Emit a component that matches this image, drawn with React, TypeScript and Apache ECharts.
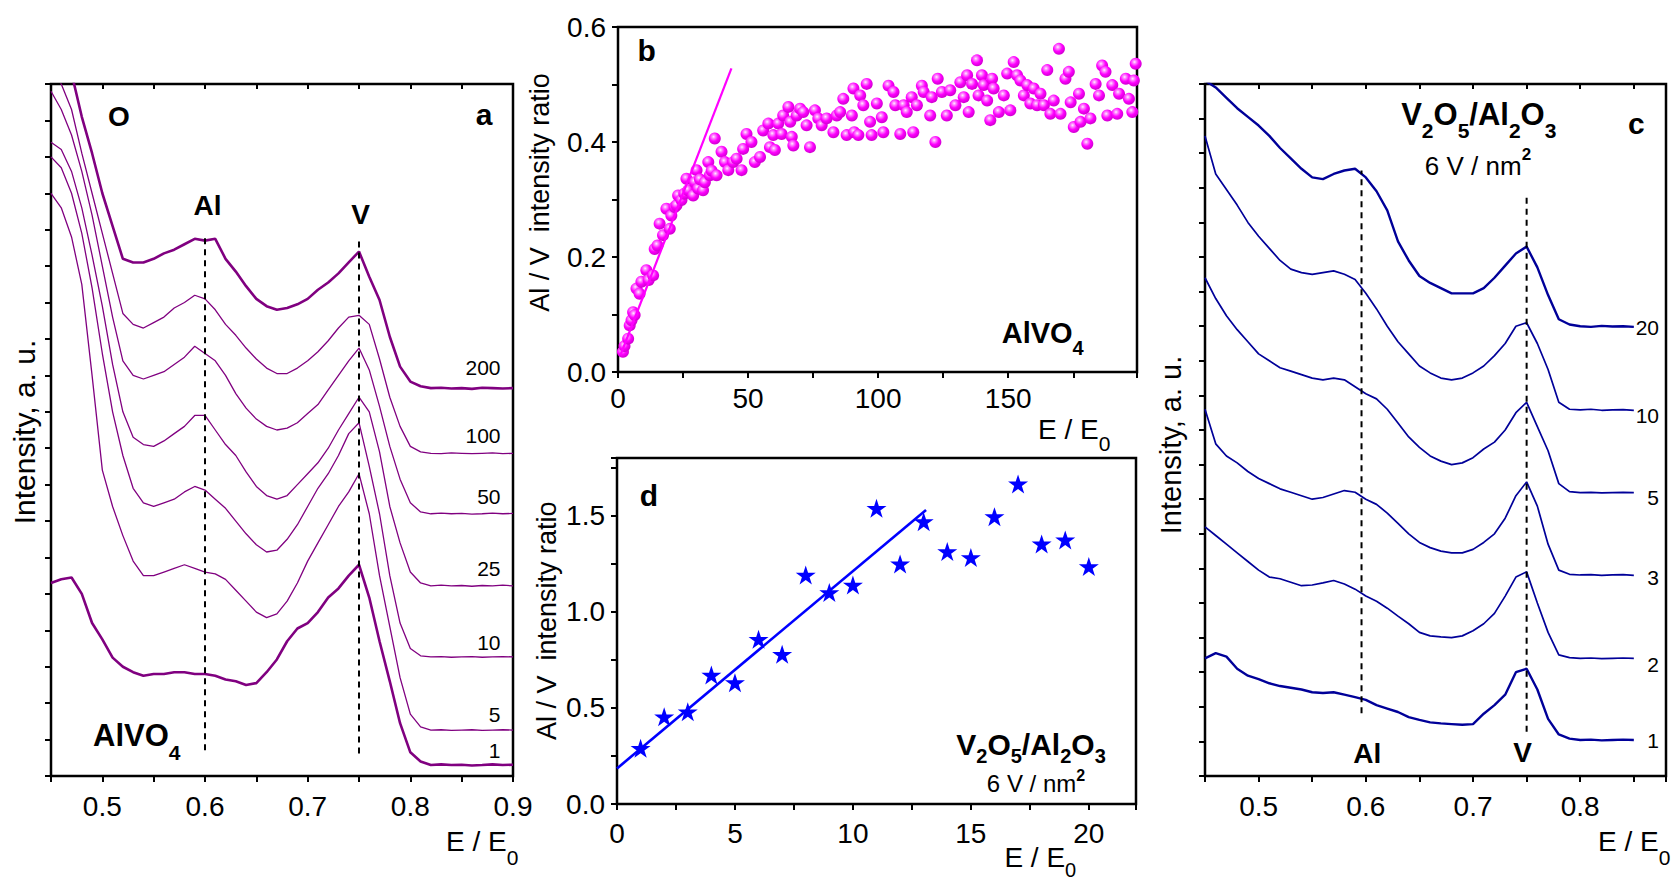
import React, { useEffect, useRef } from 'react';
import * as echarts from 'echarts';

const FONT = '"Liberation Sans", Arial, Helvetica, sans-serif';
const PURPLE = '#800080';
const NAVY = '#000099';
const MAGENTA = '#ff00ff';
const BLUE = '#0000ff';

// ---------- Panel a : AlVO4 spectra (E/E0 vs intensity, arbitrary units) ----------
const aE = [0.45, 0.46, 0.47, 0.48, 0.49, 0.50, 0.51, 0.52, 0.53, 0.54, 0.55, 0.56, 0.57, 0.58, 0.59,
  0.60, 0.61, 0.62, 0.63, 0.64, 0.65, 0.66, 0.67, 0.68, 0.69, 0.70, 0.71, 0.72, 0.73, 0.74, 0.75,
  0.76, 0.77, 0.78, 0.79, 0.80, 0.81, 0.82, 0.83, 0.84, 0.85, 0.86, 0.87, 0.88, 0.89, 0.90];
const a200 = [20.5, 20.0, 19.3, 18.1, 17.1, 16.0, 15.1, 14.2, 14.1, 14.1, 14.2, 14.35, 14.45, 14.6, 14.75,
  14.7, 14.75, 14.2, 13.85, 13.45, 13.1, 12.9, 12.8, 12.85, 12.95,
  13.1, 13.35, 13.55, 13.8, 14.1, 14.4, 13.71, 13.07, 12.06, 11.24,
  10.83, 10.7, 10.65, 10.66, 10.64, 10.65, 10.63, 10.66, 10.65, 10.64, 10.65];
const a100 = [19.5, 19.0, 18.3, 17.1, 16.0, 14.9, 13.8, 12.7, 12.4, 12.3, 12.45, 12.6, 12.85, 13.0, 13.2,
  13.1, 12.8, 12.4, 12.1, 11.75, 11.45, 11.2, 11.05, 11.05, 11.2,
  11.4, 11.65, 11.95, 12.3, 12.6, 12.65, 12.4, 11.45, 10.4, 9.6,
  9.05, 8.9, 8.86, 8.85, 8.87, 8.86, 8.85, 8.86, 8.87, 8.85, 8.86];
const a50 = [18.8, 18.3, 17.6, 16.6, 15.4, 14.0, 12.6, 11.4, 11.0, 10.9, 11.0, 11.1, 11.3, 11.5, 11.8,
  11.6, 11.4, 11.0, 10.5, 10.1, 9.8, 9.6, 9.5, 9.55, 9.7,
  9.95, 10.2, 10.6, 11.0, 11.4, 11.75, 11.15, 10.15, 9.05, 8.15,
  7.5, 7.25, 7.2, 7.22, 7.2, 7.21, 7.19, 7.2, 7.22, 7.2, 7.21];
const a25 = [17.4, 17.2, 16.6, 15.6, 14.3, 12.9, 11.3, 10.0, 9.3, 9.1, 9.05, 9.2, 9.4, 9.6, 9.9,
  9.9, 9.5, 9.1, 8.8, 8.35, 7.95, 7.7, 7.6, 7.7, 8.0,
  8.3, 8.6, 9.0, 9.5, 9.95, 10.4, 10.0, 8.9, 7.4, 6.4,
  5.6, 5.3, 5.22, 5.24, 5.22, 5.23, 5.21, 5.23, 5.22, 5.24, 5.22];
const a10 = [17.0, 16.7, 16.0, 14.9, 13.4, 11.6, 10.0, 8.8, 7.9, 7.5, 7.4, 7.5, 7.6, 7.8, 7.95,
  7.85, 7.6, 7.35, 7.0, 6.65, 6.35, 6.15, 6.2, 6.5, 6.9,
  7.4, 7.9, 8.3, 8.8, 9.4, 9.7, 8.5, 7.2, 5.5, 4.2,
  3.5, 3.3, 3.27, 3.28, 3.26, 3.27, 3.28, 3.26, 3.27, 3.28, 3.27];
const a5 = [16.0, 15.6, 14.8, 13.5, 11.0, 8.4, 7.4, 6.6, 5.9, 5.5, 5.5, 5.6, 5.7, 5.8, 5.7,
  5.6, 5.55, 5.4, 5.1, 4.8, 4.5, 4.35, 4.45, 4.8, 5.3,
  5.9, 6.4, 6.9, 7.4, 7.8, 8.3, 7.2, 5.5, 4.1, 2.7,
  1.7, 1.35, 1.26, 1.27, 1.25, 1.26, 1.27, 1.25, 1.26, 1.27, 1.26];
const a1 = [5.3, 5.4, 5.45, 5.0, 4.2, 3.75, 3.25, 3.0, 2.85, 2.75, 2.8, 2.8, 2.85, 2.85, 2.8,
  2.8, 2.75, 2.65, 2.6, 2.5, 2.55, 2.85, 3.2, 3.7, 4.05,
  4.2, 4.5, 4.9, 5.15, 5.5, 5.8, 4.9, 3.7, 2.6, 1.45,
  0.65, 0.4, 0.3, 0.32, 0.3, 0.31, 0.29, 0.3, 0.32, 0.3, 0.31];
const aCurveNames = ['200', '100', '50', '25', '10', '5', '1'];
const aDashX = [0.6, 0.75];
const aDashLow = [0.71, 0.62];
const aDashHigh = [14.9, 14.76];

// ---------- Panel c : V2O5/Al2O3 spectra ----------
const cE = [0.45, 0.46, 0.47, 0.48, 0.49, 0.50, 0.51, 0.52, 0.53, 0.54, 0.55, 0.56, 0.57, 0.58, 0.59,
  0.60, 0.61, 0.62, 0.63, 0.64, 0.65, 0.66, 0.67, 0.68, 0.69, 0.70, 0.71, 0.72, 0.73, 0.74, 0.75,
  0.76, 0.77, 0.78, 0.79, 0.80, 0.81, 0.82, 0.83, 0.84, 0.85];
const c20 = [20.1, 19.9, 19.6, 19.3, 19.05, 18.8, 18.5, 18.15, 17.85, 17.55, 17.3, 17.25, 17.4, 17.5, 17.55,
  17.3, 16.9, 16.35, 15.45, 14.9, 14.45, 14.25, 14.1, 13.95, 13.95,
  13.95, 14.1, 14.4, 14.75, 15.1, 15.3, 14.7, 13.9, 13.2, 13.05,
  13.0, 12.98, 13.01, 12.99, 13.0, 12.98];
const c10 = [18.5, 17.4, 16.95, 16.5, 16.0, 15.6, 15.25, 14.9, 14.65, 14.55, 14.5, 14.55, 14.6, 14.5, 14.35,
  13.95, 13.5, 13.0, 12.55, 12.2, 11.85, 11.65, 11.5, 11.45, 11.5,
  11.65, 11.85, 12.15, 12.5, 13.0, 13.1, 12.5, 11.75, 10.8, 10.6,
  10.58, 10.6, 10.57, 10.58, 10.59, 10.57];
const c5 = [14.4, 13.8, 13.3, 12.9, 12.55, 12.2, 12.0, 11.8, 11.7, 11.6, 11.5, 11.45, 11.5, 11.45, 11.25,
  11.05, 10.9, 10.6, 10.2, 9.8, 9.5, 9.25, 9.1, 9.0, 9.05,
  9.2, 9.45, 9.65, 10.0, 10.5, 10.8, 10.1, 9.4, 8.45, 8.22,
  8.19, 8.2, 8.18, 8.19, 8.2, 8.19];
const c3 = [10.6, 9.6, 9.25, 9.05, 8.8, 8.6, 8.45, 8.3, 8.2, 8.1, 8.0, 8.05, 8.15, 8.25, 8.2,
  8.0, 7.85, 7.6, 7.3, 7.0, 6.75, 6.6, 6.5, 6.45, 6.45,
  6.55, 6.75, 7.0, 7.45, 8.1, 8.5, 7.8, 6.7, 5.95, 5.83,
  5.81, 5.82, 5.8, 5.81, 5.82, 5.8];
const c2 = [7.2, 6.95, 6.7, 6.45, 6.2, 5.95, 5.75, 5.7, 5.6, 5.5, 5.52, 5.58, 5.65, 5.55, 5.4,
  5.2, 5.05, 4.85, 4.62, 4.4, 4.15, 4.05, 4.02, 4.0, 4.05,
  4.2, 4.4, 4.7, 5.2, 5.75, 5.9, 5.0, 4.15, 3.5, 3.42,
  3.4, 3.41, 3.39, 3.4, 3.41, 3.4];
const c1 = [3.4, 3.55, 3.45, 3.1, 2.9, 2.8, 2.68, 2.6, 2.55, 2.5, 2.42, 2.4, 2.42, 2.35, 2.28,
  2.2, 2.05, 1.95, 1.85, 1.7, 1.62, 1.55, 1.52, 1.5, 1.48,
  1.5, 1.8, 2.05, 2.35, 3.0, 3.1, 2.5, 1.65, 1.2, 1.08,
  1.04, 1.05, 1.03, 1.04, 1.05, 1.04];
const cCurveNames = ['20', '10', '5', '3', '2', '1'];
const cDashX = [0.596, 0.75];
const cDashLow = [1.81, 1.28];
const cDashHigh = [17.5, 16.74];

// ---------- Panel b : AlVO4 Al/V intensity ratio ----------
const bX = [1.9, 2.5, 3.9, 4.5, 5.2, 5.8, 6.4, 7.1, 8.3, 9.0, 10.9, 11.8, 13.5, 14.1, 15.2, 16.0, 17.3, 18.6,
  19.9, 20.5, 21.8, 22.5, 23.1, 24.4, 25.5, 26.3, 27.0, 28.9, 29.5, 30.2, 30.8, 31.5, 32.7, 33.4, 34.7,
  35.3, 36.0, 37.2, 37.9, 39.8, 41.1, 42.4, 44.3, 45.6, 47.5, 48.1, 49.4, 51.3, 52.6, 54.6, 55.8, 57.8,
  58.4, 59.7, 60.3, 61.6, 62.9, 63.5, 65.5, 66.2, 66.8, 67.4, 68.7, 70.0, 71.2, 72.5, 73.8, 75.7, 77.0,
  78.3, 80.2, 82.8, 84.1, 85.4, 86.6, 87.9, 89.9, 90.5, 90.8, 92.4, 93.1, 94.3, 95.6, 96.9, 97.5, 99.5,
  101.4, 102.0, 104.0, 105.9, 106.6, 108.5, 109.8, 111.0, 112.9, 113.5, 114.9, 116.8, 117.5, 120.0,
  120.6, 122.0, 122.9, 124.5, 126.4, 127.7, 129.7, 131.6, 132.9, 134.2, 134.8, 136.1, 138.0, 138.6,
  139.9, 140.6, 141.9, 143.1, 143.8, 144.4, 146.4, 148.3, 149.6, 150.8, 152.1, 153.4, 154.7, 156.0,
  157.3, 158.5, 159.8, 161.1, 162.4, 163.7, 165.0, 166.2, 167.5, 169.5, 170.1, 172.0, 173.3, 174.0,
  175.2, 177.2, 177.8, 179.1, 180.4, 181.6, 183.6, 184.9, 186.1, 187.4, 188.1, 190.0, 191.9, 192.6,
  195.2, 196.4, 197.7, 198.3, 199.0];
const bY = [0.035, 0.045, 0.058, 0.081, 0.09, 0.104, 0.099, 0.145, 0.136, 0.157, 0.177, 0.16, 0.168, 0.214,
  0.22, 0.258, 0.238, 0.284, 0.249, 0.272, 0.287, 0.29, 0.307, 0.299, 0.31, 0.336, 0.316, 0.307, 0.33,
  0.351, 0.319, 0.335, 0.316, 0.33, 0.365, 0.342, 0.35, 0.406, 0.342, 0.383, 0.365, 0.351, 0.365, 0.371,
  0.351, 0.388, 0.414, 0.4, 0.365, 0.374, 0.42, 0.432, 0.391, 0.412, 0.386, 0.432, 0.414, 0.446, 0.461,
  0.435, 0.409, 0.394, 0.446, 0.458, 0.452, 0.429, 0.391, 0.455, 0.441, 0.429, 0.441, 0.417, 0.446,
  0.452, 0.475, 0.412, 0.446, 0.493, 0.417, 0.412, 0.481, 0.464, 0.501, 0.435, 0.412, 0.467, 0.443,
  0.417, 0.498, 0.487, 0.464, 0.414, 0.464, 0.452, 0.478, 0.417, 0.464, 0.498, 0.487, 0.446, 0.478,
  0.4, 0.51, 0.487, 0.446, 0.49, 0.464, 0.504, 0.478, 0.516, 0.452, 0.501, 0.542, 0.481, 0.516, 0.499,
  0.472, 0.438, 0.51, 0.493, 0.452, 0.481, 0.519, 0.455, 0.539, 0.516, 0.507, 0.481, 0.499, 0.467,
  0.493, 0.464, 0.484, 0.464, 0.525, 0.449, 0.472, 0.562, 0.449, 0.51, 0.522, 0.469, 0.426, 0.484,
  0.435, 0.458, 0.397, 0.441, 0.501, 0.481, 0.533, 0.522, 0.446, 0.499, 0.449, 0.484, 0.51, 0.475,
  0.452, 0.507, 0.536];
const bFitX = [1, 43.6];
const bFitY = [0.03, 0.528];

// ---------- Panel d : V2O5/Al2O3 Al/V intensity ratio ----------
const dX = [1, 2, 3, 4, 5, 6, 7, 8, 9, 10, 11, 12, 13, 14, 15, 16, 17, 18, 19, 20];
const dY = [0.29, 0.454, 0.48, 0.671, 0.631, 0.857, 0.779, 1.191, 1.1, 1.139, 1.538, 1.249, 1.469, 1.313,
  1.282, 1.495, 1.665, 1.353, 1.374, 1.235];
const dFitX = [0, 13.1];
const dFitY = [0.185, 1.53];

const STAR = 'path://M12,0 L14.8,8.6 L24,8.6 L16.6,14 L19.4,22.8 L12,17.4 L4.6,22.8 L7.4,14 L0,8.6 L9.2,8.6 Z';

const zip = (xs: number[], ys: number[]) => xs.map((x, i) => [x, ys[i]]);

let _ctx: CanvasRenderingContext2D | null = null;
function measure(t: string, size: number, bold: boolean) {
  if (!_ctx) _ctx = document.createElement('canvas').getContext('2d');
  if (!_ctx) return t.length * size * 0.55;
  _ctx.font = `${bold ? 'bold ' : ''}${size}px ${FONT}`;
  return _ctx.measureText(t).width;
}

function txt(t: string, x: number, y: number, size: number, o: any = {}) {
  const align = o.align || 'center';
  return {
    type: 'text', x, y, rotation: o.rot || 0, silent: true, z: 100,
    style: {
      text: t, fill: '#000', font: `${o.bold ? 'bold ' : ''}${size}px ${FONT}`,
      align, verticalAlign: 'middle', textAlign: align, textVerticalAlign: 'middle',
    },
  };
}

type Part = [string, 'n' | 's' | 'p'];
function rich(parts: Part[], x: number, baseline: number, o: any) {
  const size = o.size;
  const sub = o.sub || Math.round(size * 0.7);
  const dy = o.dy ?? size * 0.42;
  const up = o.up ?? size * 0.5;
  const bold = !!o.bold;
  const subBold = o.subBold ?? bold;
  const ws = parts.map(([t, k]) => measure(t, k === 'n' ? size : sub, k === 'n' ? bold : subBold));
  const total = ws.reduce((a, b) => a + b, 0);
  let cx = o.align === 'center' ? x - total / 2 : o.align === 'right' ? x - total : x;
  return parts.map(([t, k], i) => {
    const sz = k === 'n' ? size : sub;
    const b = k === 'n' ? baseline : k === 's' ? baseline + dy : baseline - up;
    const el = {
      type: 'text', x: cx, y: b - 0.35 * sz, silent: true, z: 100,
      style: {
        text: t, fill: '#000', font: `${(k === 'n' ? bold : subBold) ? 'bold ' : ''}${sz}px ${FONT}`,
        align: 'left', verticalAlign: 'middle', textAlign: 'left', textVerticalAlign: 'middle',
      },
    };
    cx += ws[i];
    return el;
  });
}

const fmt = (every: number, digits: number) => (v: number) => {
  const k = v / every;
  return Math.abs(k - Math.round(k)) < 1e-6 ? v.toFixed(digits) : '';
};
const tickOut = { show: true, inside: false, length: 6, lineStyle: { color: '#000', width: 2 } };
const tickIn = { show: true, inside: true, length: 5, lineStyle: { color: '#000', width: 2 } };
const lbl = (every: number, digits: number, margin: number) => ({
  show: true, color: '#000', fontSize: 28, fontFamily: FONT, margin, formatter: fmt(every, digits),
});
const noLbl = { show: false };
const ax = (gridIndex: number, position: string, min: number, max: number, interval: number, axisTick: any, axisLabel: any) => ({
  type: 'value', gridIndex, position, min, max, interval, axisTick, axisLabel,
  axisLine: { show: false }, splitLine: { show: false }, minorTick: { show: false },
});

function buildOption() {
  const aSeries = [a200, a100, a50, a25, a10, a5, a1].map((ys, i) => ({
    type: 'line', name: 'a' + aCurveNames[i], xAxisIndex: 0, yAxisIndex: 0, data: zip(aE, ys),
    showSymbol: false, symbol: 'none', silent: true, clip: true,
    lineStyle: { color: PURPLE, width: i === 0 || i === 6 ? 2.6 : 1.3 },
  }));
  const cSeries = [c20, c10, c5, c3, c2, c1].map((ys, i) => ({
    type: 'line', name: 'c' + cCurveNames[i], xAxisIndex: 6, yAxisIndex: 5, data: zip(cE, ys),
    showSymbol: false, symbol: 'none', silent: true, clip: true,
    lineStyle: { color: NAVY, width: i === 0 || i === 5 ? 2.4 : 1.7 },
  }));
  const dashA = aDashX.map((x, i) => ({
    type: 'line', xAxisIndex: 0, yAxisIndex: 0, data: [[x, aDashLow[i]], [x, aDashHigh[i]]],
    showSymbol: false, symbol: 'none', silent: true, z: 5,
    lineStyle: { color: '#000', width: 2, type: [6, 5] },
  }));
  const dashC = cDashX.map((x, i) => ({
    type: 'line', xAxisIndex: 6, yAxisIndex: 5, data: [[x, cDashLow[i]], [x, cDashHigh[i]]],
    showSymbol: false, symbol: 'none', silent: true, z: 5,
    lineStyle: { color: '#000', width: 2, type: [6, 5] },
  }));
  const sphere = new echarts.graphic.RadialGradient(0.4, 0.35, 0.62, [
    { offset: 0, color: '#fff0ff' },
    { offset: 0.22, color: '#ff8cff' },
    { offset: 0.6, color: '#ff00ff' },
    { offset: 1, color: '#d400d4' },
  ]);

  const graphics: any[] = [
    // panel a
    txt('O', 119, 116.7, 28, { bold: true }),
    txt('a', 484, 114, 30, { bold: true }),
    txt('Al', 207.5, 205, 28, { bold: true }),
    txt('V', 360.7, 214, 28, { bold: true }),
    ...rich([['AlVO', 'n'], ['4', 's']], 93, 746.7, { size: 31, sub: 21, dy: 13, bold: true }),
    ...[367.5, 435, 496.7, 568.7, 642.5, 714, 750.8].map((y, i) => txt(aCurveNames[i], 500.5, y, 21, { align: 'right' })),
    txt('Intensity, a. u.', 24, 432, 30, { rot: Math.PI / 2 }),
    ...rich([['E / E', 'n'], ['0', 's']], 446, 851.7, { size: 28, sub: 21, dy: 13 }),
    // panel b
    txt('b', 646.7, 50, 30, { bold: true }),
    ...rich([['AlVO', 'n'], ['4', 's']], 1001.7, 343.3, { size: 29, sub: 20, dy: 11.7, bold: true }),
    txt('Al / V  intensity ratio', 540, 192.5, 27, { rot: Math.PI / 2 }),
    ...rich([['E / E', 'n'], ['0', 's']], 1038, 439.3, { size: 28, sub: 21, dy: 12 }),
    // panel d
    txt('d', 649, 495, 30, { bold: true }),
    ...rich([['V', 'n'], ['2', 's'], ['O', 'n'], ['5', 's'], ['/Al', 'n'], ['2', 's'], ['O', 'n'], ['3', 's']],
      1031, 755, { size: 30, sub: 20, dy: 8, bold: true, align: 'center' }),
    ...rich([['6 V / nm', 'n'], ['2', 'p']], 1036, 792, { size: 24, sub: 16, up: 11, subBold: true, align: 'center' }),
    txt('Al / V  intensity ratio', 547, 620.8, 27, { rot: Math.PI / 2 }),
    ...rich([['E / E', 'n'], ['0', 's']], 1004.4, 867, { size: 28, sub: 20, dy: 10 }),
    // panel c
    txt('c', 1636.3, 123, 30, { bold: true }),
    ...rich([['V', 'n'], ['2', 's'], ['O', 'n'], ['5', 's'], ['/Al', 'n'], ['2', 's'], ['O', 'n'], ['3', 's']],
      1478.8, 125, { size: 31, sub: 21, dy: 13, bold: true, align: 'center' }),
    ...rich([['6 V / nm', 'n'], ['2', 'p']], 1478, 175, { size: 26, sub: 17, up: 15, subBold: true, align: 'center' }),
    txt('Al', 1367.2, 753.3, 28, { bold: true }),
    txt('V', 1522.7, 752.5, 28, { bold: true }),
    ...[327.5, 415.8, 497.5, 577.5, 664.2, 740.8].map((y, i) => txt(cCurveNames[i], 1659, y, 21, { align: 'right' })),
    txt('Intensity, a. u.', 1171, 445, 29, { rot: Math.PI / 2 }),
    ...rich([['E / E', 'n'], ['0', 's']], 1598, 851.7, { size: 28, sub: 21, dy: 13 }),
  ];
  return {
    animation: false,
    backgroundColor: '#ffffff',
    grid: [
      { left: 51, top: 84, width: 462, height: 692, show: true, borderColor: '#000', borderWidth: 2.5, backgroundColor: 'transparent' },
      { left: 618, top: 27, width: 519, height: 345, show: true, borderColor: '#000', borderWidth: 2.5, backgroundColor: 'transparent' },
      { left: 617, top: 458, width: 519, height: 346, show: true, borderColor: '#000', borderWidth: 2.5, backgroundColor: 'transparent' },
      { left: 1205, top: 84, width: 461, height: 692, show: true, borderColor: '#000', borderWidth: 2.5, backgroundColor: 'transparent' },
    ],
    xAxis: [
      ax(0, 'bottom', 0.45, 0.9, 0.05, tickOut, lbl(0.1, 1, 16)),
      ax(0, 'top', 0.45, 0.9, 0.05, tickIn, noLbl),
      ax(1, 'bottom', 0, 199.5, 25, tickOut, lbl(50, 0, 12)),
      ax(1, 'top', 0, 199.5, 25, tickIn, noLbl),
      ax(2, 'bottom', 0, 22, 2.5, tickOut, lbl(5, 0, 15)),
      ax(2, 'top', 0, 22, 2.5, tickIn, noLbl),
      ax(3, 'bottom', 0.45, 0.88, 0.05, tickOut, lbl(0.1, 1, 16)),
      ax(3, 'top', 0.45, 0.88, 0.05, tickIn, noLbl),
    ],
    yAxis: [
      ax(0, 'left', 0, 19, 1, tickOut, noLbl),
      ax(1, 'left', 0, 0.6, 0.1, tickOut, lbl(0.2, 1, 12)),
      ax(1, 'right', 0, 0.6, 0.1, tickIn, noLbl),
      ax(2, 'left', 0, 1.8, 0.25, tickOut, lbl(0.5, 1, 12)),
      ax(2, 'right', 0, 1.8, 0.25, tickIn, noLbl),
      ax(3, 'left', 0, 20, 1, tickOut, noLbl),
    ],
    series: [
      ...aSeries,
      ...dashA,
      {
        type: 'scatter', xAxisIndex: 2, yAxisIndex: 1, data: zip(bX, bY), symbol: 'circle', symbolSize: 12,
        silent: true, itemStyle: { color: sphere, opacity: 1 },
      },
      {
        type: 'line', xAxisIndex: 2, yAxisIndex: 1, data: zip(bFitX, bFitY), showSymbol: false, symbol: 'none',
        silent: true, lineStyle: { color: MAGENTA, width: 2.2 }, z: 3,
      },
      {
        type: 'line', xAxisIndex: 4, yAxisIndex: 3, data: zip(dFitX, dFitY), showSymbol: false, symbol: 'none',
        silent: true, lineStyle: { color: BLUE, width: 2.6 },
      },
      {
        type: 'scatter', xAxisIndex: 4, yAxisIndex: 3, data: zip(dX, dY), symbol: STAR, symbolSize: 20,
        symbolKeepAspect: true, silent: true, itemStyle: { color: BLUE, opacity: 1 }, z: 4,
      },
      ...cSeries,
      ...dashC,
    ],
    graphic: { elements: graphics },
  };
}

export default function App() {
  const ref = useRef<HTMLDivElement>(null);
  useEffect(() => {
    if (!ref.current) return;
    const chart = echarts.init(ref.current, null, { renderer: 'svg' });
    chart.setOption(buildOption() as any);
    return () => chart.dispose();
  }, []);
  return (
    <div
      ref={ref}
      style={{ position: 'fixed', left: 0, top: 0, width: 1680, height: 885, background: '#fff' }}
    />
  );
}
